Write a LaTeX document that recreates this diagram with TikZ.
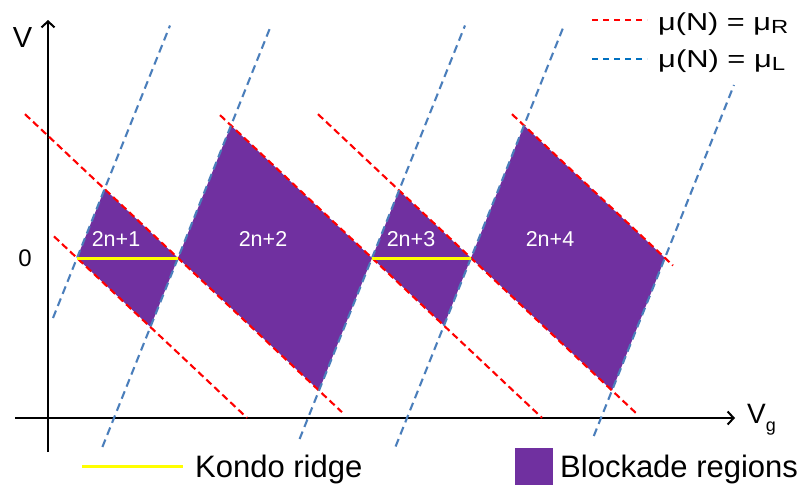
\documentclass[tikz,border=0pt]{standalone}
\usepackage{fontspec}
\setmainfont{Liberation Sans}
\usetikzlibrary{arrows.meta}
\definecolor{blockade}{HTML}{7030A0}
\definecolor{lineblue}{HTML}{4A7EBB}
\definecolor{legblue}{HTML}{0070C0}
\definecolor{kondo}{HTML}{FFFF00}
\begin{document}
\begin{tikzpicture}[x=1pt,y=-1pt,
  redline/.style={draw=red,line width=2.1pt,dash pattern=on 7pt off 4pt},
  blueline/.style={draw=lineblue,line width=2.1pt,dash pattern=on 8pt off 5pt},
  legred/.style={draw=red,line width=2.2pt,dash pattern=on 6pt off 5pt},
  legblueline/.style={draw=legblue,line width=2.2pt,dash pattern=on 6pt off 5pt},
  region/.style={fill=blockade},
  ridge/.style={draw=kondo,line width=3pt},
  axisline/.style={line width=2pt,-{Straight Barb[length=6pt,width=13pt]}},
  lbl/.style={inner sep=0pt,anchor=base},
  leg/.style={inner sep=0pt,anchor=base west}
]
\useasboundingbox (0,0) rectangle (800,485);

% vertices at V = 0
\coordinate (P1) at (77,258);
\coordinate (P2) at (178,258);
\coordinate (P3) at (372,258);
\coordinate (P4) at (471,258);
\coordinate (P5) at (665,258);
% tops and bottoms
\coordinate (T1) at (104.6,189.0);
\coordinate (B1) at (150.4,327.0);
\coordinate (T2) at (231.0,125.5);
\coordinate (B2) at (319.0,390.5);
\coordinate (T3) at (399.0,190.5);
\coordinate (B3) at (443.9,325.5);
\coordinate (T4) at (524.0,125.5);
\coordinate (B4) at (612.0,390.5);

% blockade regions
\fill[region] (P1) -- (T1) -- (P2) -- (B1) -- cycle;
\fill[region] (P2) -- (T2) -- (P3) -- (B2) -- cycle;
\fill[region] (P3) -- (T3) -- (P4) -- (B3) -- cycle;
\fill[region] (P4) -- (T4) -- (P5) -- (B4) -- cycle;

% axes
\coordinate (yaxb) at (48,452);
\coordinate (yaxt) at (48,20);
\coordinate (xaxl) at (15,418);
\coordinate (xaxr) at (735,418);
\draw[axisline] (yaxb) -- (yaxt);
\draw[axisline] (xaxl) -- (xaxr);

% red lines mu(N) = mu_R
\coordinate (r1s) at (54,236.4);   \coordinate (r1e) at (247,417.8);
\coordinate (r2s) at (25,114.2);   \coordinate (r2e) at (342,412.2);
\coordinate (r3s) at (220,115.1);  \coordinate (r3e) at (542,417.8);
\coordinate (r4s) at (318,114.2);  \coordinate (r4e) at (637,414);
\coordinate (r5s) at (512,114.2);  \coordinate (r5e) at (673,265.5);
\draw[redline] (r1s) -- (r1e);
\draw[redline] (r2s) -- (r2e);
\draw[redline] (r3s) -- (r3e);
\draw[redline] (r4s) -- (r4e);
\draw[redline] (r5s) -- (r5e);

% blue lines mu(N) = mu_L
\coordinate (b1s) at (53,318);     \coordinate (b1e) at (170,25.5);
\coordinate (b2s) at (102.4,447);  \coordinate (b2e) at (271,25.5);
\coordinate (b3s) at (299.6,439);  \coordinate (b3e) at (465,25.5);
\coordinate (b4s) at (395.6,446.5);\coordinate (b4e) at (564,25.5);
\coordinate (b5s) at (593.8,436);  \coordinate (b5e) at (734,85);
\draw[blueline] (b1s) -- (b1e);
\draw[blueline] (b2s) -- (b2e);
\draw[blueline] (b3s) -- (b3e);
\draw[blueline] (b4s) -- (b4e);
\draw[blueline] (b5s) -- (b5e);

% Kondo ridges
\draw[ridge] (P1) -- (P2);
\draw[ridge] (P3) -- (P4);

% diamond labels
\node[lbl,text=white,font=\fontsize{21.5}{23}\selectfont] (n1) at (116,246) {2n+1};
\node[lbl,text=white,font=\fontsize{21.5}{23}\selectfont] (n2) at (263,246) {2n+2};
\node[lbl,text=white,font=\fontsize{21.5}{23}\selectfont] (n3) at (411,246) {2n+3};
\node[lbl,text=white,font=\fontsize{21.5}{23}\selectfont] (n4) at (550,246) {2n+4};

% axis labels
\node[lbl,font=\fontsize{29}{30}\selectfont] (vlab) at (22.5,47) {V};
\node[inner sep=0pt,font=\fontsize{24}{26}\selectfont] (zero) at (25,258) {0};
\node[leg] (vglab) at (747,423) {\fontsize{28}{30}\selectfont V\raisebox{-8pt}{\fontsize{18}{20}\selectfont g}};

% top legend
\coordinate (lr1) at (592,20); \coordinate (lr2) at (647,20);
\coordinate (lb1) at (592,59); \coordinate (lb2) at (647,59);
\draw[legred] (lr1) -- (lr2);
\draw[legblueline] (lb1) -- (lb2);
\node[leg] (legR) at (658,30) {\resizebox{130pt}{\height}{\fontsize{24.5}{26}\selectfont μ(N) = μ\raisebox{-3pt}{\fontsize{19}{20}\selectfont R}}};
\node[leg] (legL) at (658,67) {\resizebox{127pt}{\height}{\fontsize{24.5}{26}\selectfont μ(N) = μ\raisebox{-3pt}{\fontsize{19}{20}\selectfont L}}};

% bottom legend
\coordinate (ky1) at (82,466); \coordinate (ky2) at (183,466);
\draw[ridge] (ky1) -- (ky2);
\node[leg,font=\fontsize{31}{33}\selectfont] (kondotxt) at (195,477) {Kondo ridge};
\fill[region] (515,448) rectangle (553,485);
\node[leg,font=\fontsize{31}{33}\selectfont] (blocktxt) at (560,477) {Blockade regions};
\end{tikzpicture}
\end{document}
